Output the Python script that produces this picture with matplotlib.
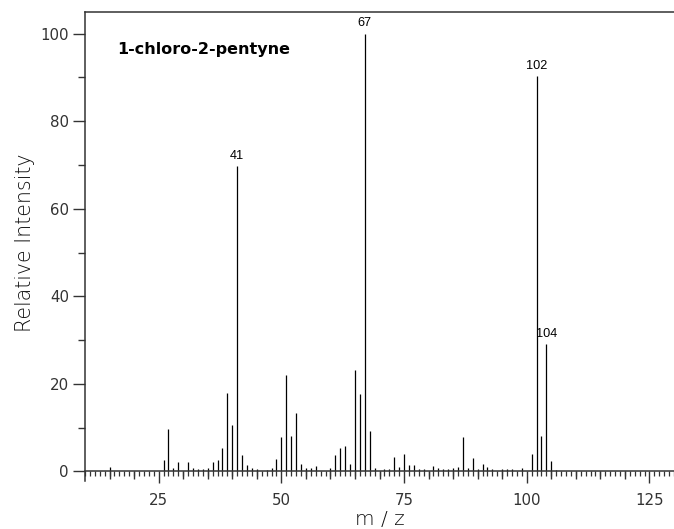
import matplotlib
matplotlib.use("Agg")
import matplotlib.pyplot as plt
from matplotlib.ticker import MultipleLocator, FixedLocator, NullFormatter
from matplotlib import font_manager as fm

# ---- data ----
mz = [15, 26, 27, 28, 29, 31, 32, 33, 34, 35, 36, 37, 38, 39, 40, 41, 42, 43, 44, 45,
      47, 48, 49, 50, 51, 52, 53, 54, 55, 56, 57, 60, 61, 62, 63, 64, 65, 66, 67, 68,
      69, 71, 72, 73, 74, 75, 76, 77, 78, 79, 81, 82, 83, 84, 85, 86, 87, 88, 89, 90,
      91, 92, 93, 95, 96, 97, 99, 101, 102, 103, 104, 105, 106]
intensity = [1.0, 2.6, 9.8, 0.8, 2.1, 2.1, 0.8, 0.5, 0.5, 0.8, 2.1, 2.7, 5.3, 18.0, 10.6, 69.7, 3.7, 1.5, 0.8, 0.5,
             0.4, 0.8, 2.8, 7.8, 22.0, 8.1, 13.3, 1.8, 0.8, 0.8, 1.3, 0.8, 3.7, 5.4, 5.9, 1.8, 23.1, 17.6, 100.0, 9.2,
             0.8, 0.5, 0.5, 3.3, 1.1, 4.0, 1.5, 1.5, 0.5, 0.5, 1.3, 0.8, 0.5, 0.5, 0.8, 1.1, 7.8, 0.8, 3.0, 0.5,
             1.8, 1.1, 0.5, 0.5, 0.5, 0.5, 0.8, 4.0, 90.3, 8.1, 29.0, 2.4, 0.4]
labeled_peaks = [41, 67, 102, 104]
title = "1-chloro-2-pentyne"
x_ticks = [25, 50, 75, 100, 125]
y_ticks = [0, 20, 40, 60, 80, 100]

def has(fam, weight="normal"):
    try:
        return fm.findfont(fm.FontProperties(family=fam, weight=weight),
                           fallback_to_default=False)
    except Exception:
        return None

narrow = "Liberation Sans Narrow" if has("Liberation Sans Narrow") else "Liberation Sans"

W, H = 674, 529
fig = plt.figure(figsize=(W / 100, H / 100), dpi=100)
ax = fig.add_axes([85 / W, (529 - 481.1) / H, 589 / W, 469.4 / H])

ymin, ymax = -2.2, 105
ax.set_xlim(10, 130)
ax.set_ylim(ymin, ymax)

ax.vlines(mz, 0, intensity, color="black", lw=0.9)

for m in labeled_peaks:
    v = intensity[mz.index(m)]
    ax.annotate(str(m), (m, v), xytext=(0, 3.2), textcoords="offset points",
                ha="center", va="bottom", fontsize=9.2, family=narrow)

ax.text(0.054, 0.910, title, transform=ax.transAxes, fontsize=11.5,
        fontweight="bold", family="DejaVu Sans", va="baseline", ha="left")

spine_c = "#333333"
ax.spines["right"].set_visible(False)
ax.spines["bottom"].set_position(("data", 0))
for s in ["left", "top", "bottom"]:
    ax.spines[s].set_color(spine_c)
    ax.spines[s].set_linewidth(1.1)

ax.xaxis.set_major_locator(FixedLocator(x_ticks))
ax.xaxis.set_minor_locator(MultipleLocator(1))
ax.yaxis.set_major_locator(FixedLocator(y_ticks))
ax.yaxis.set_minor_locator(MultipleLocator(10))
ax.tick_params(axis="x", which="major", length=8.8, width=1.0, color=spine_c, pad=6.5,
               labelsize=10.8, labelcolor="#333333")
ax.tick_params(axis="x", which="minor", length=3.4, width=0.9, color=spine_c)
ax.tick_params(axis="y", which="major", length=8.6, width=1.0, color=spine_c, pad=3.0,
               labelsize=10.8, labelcolor="#333333")
ax.tick_params(axis="y", which="minor", length=5.0, width=1.0, color=spine_c)
for lab in ax.get_xticklabels() + ax.get_yticklabels():
    lab.set_family("DejaVu Sans")

# medium ticks every 5 on the zero line
loc = (0 - ymin) / (ymax - ymin)
sec = ax.secondary_xaxis(loc)
sec.xaxis.set_major_locator(FixedLocator([v for v in range(15, 130, 5) if v % 25]))
sec.xaxis.set_major_formatter(NullFormatter())
sec.tick_params(axis="x", which="major", length=5.4, width=1.0, color=spine_c, direction="out")
sec.xaxis.set_minor_locator(FixedLocator([]))
sec.spines["bottom"].set_visible(False)

ax.set_xlabel("m / z", fontsize=14.5, family="DejaVu Sans", fontweight=200, color="#111111")
ax.xaxis.label.set_va("baseline")
ax.xaxis.set_label_coords(0.5, -0.0935)
ax.set_ylabel("Relative Intensity", fontsize=14.8, family="DejaVu Sans", fontweight=200, color="#111111")
ax.yaxis.set_label_coords(-0.0849, 0.507)

fig.savefig("out.png", dpi=100)
